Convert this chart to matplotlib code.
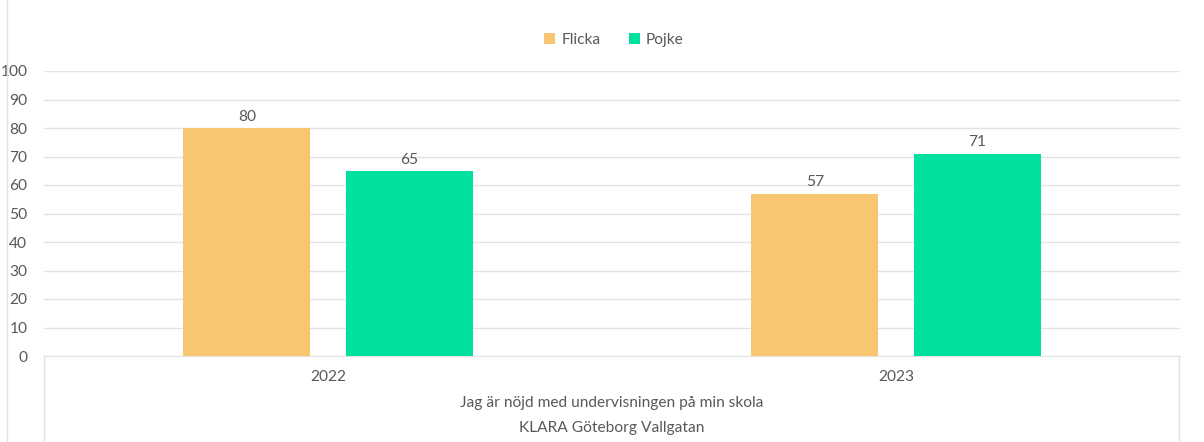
import matplotlib.pyplot as plt
import numpy as np
from matplotlib.lines import Line2D

years = ["2022", "2023"]
flicka = [80, 57]
pojke = [65, 71]
series_names = ["Flicka", "Pojke"]
question = "Jag är nöjd med undervisningen på min skola"
school = "KLARA Göteborg Vallgatan"

plt.rcParams['font.family'] = ['Lato', 'DejaVu Sans']
grey = "#595959"
line_col = "#e3e3e3"
colors = ["#f8c671", "#00e09e"]
fs = 11.2

fig = plt.figure(figsize=(12.04, 4.42), dpi=100)
ax = fig.add_axes([44/1204, 86/442, 1136/1204, 285/442])

x = np.arange(len(years))
w = 0.224
off = 0.143
b1 = ax.bar(x - off, flicka, w, color=colors[0], label=series_names[0], zorder=3)
b2 = ax.bar(x + off, pojke, w, color=colors[1], label=series_names[1], zorder=3)
for bars in (b1, b2):
    ax.bar_label(bars, padding=3, color=grey, fontsize=fs)

ax.set_xlim(-0.5, 1.5)
ax.set_ylim(0, 100)
ax.set_yticks(range(0, 101, 10))
ax.yaxis.grid(True, color=line_col, linewidth=1, zorder=0)
ax.tick_params(axis='y', length=0, pad=12, labelcolor=grey, labelsize=fs)
ax.tick_params(axis='x', length=0, labelbottom=False)
for s in ["top", "right", "left"]:
    ax.spines[s].set_visible(False)
ax.spines["bottom"].set_color(line_col)

# category table under the axis
for i, yr in enumerate(years):
    fig.text((44 + 568 * (i + 0.5)) / 1204, 1 - 377/442, yr, ha='center', va='center',
             color=grey, fontsize=fs)
fig.text(612/1204, 1 - 403/442, question, ha='center', va='center', color=grey, fontsize=fs)
fig.text(612/1204, 1 - 428/442, school, ha='center', va='center', color=grey, fontsize=fs)
fig.add_artist(Line2D([44/1204, 44/1204], [0, 86/442], color=line_col, lw=1))
fig.add_artist(Line2D([1179/1204, 1179/1204], [0, 86/442], color=line_col, lw=1))
fig.add_artist(Line2D([7/1204, 7/1204], [0, 1], color=line_col, lw=1))

ax.legend(loc='center', bbox_to_anchor=(614/1204, 1 - 40/442), bbox_transform=fig.transFigure,
          ncol=2, frameon=False, handlelength=0.7, handleheight=0.7, handletextpad=0.4,
          columnspacing=1.8, fontsize=fs, labelcolor=grey)

fig.savefig("out.png", dpi=100, facecolor="white")
